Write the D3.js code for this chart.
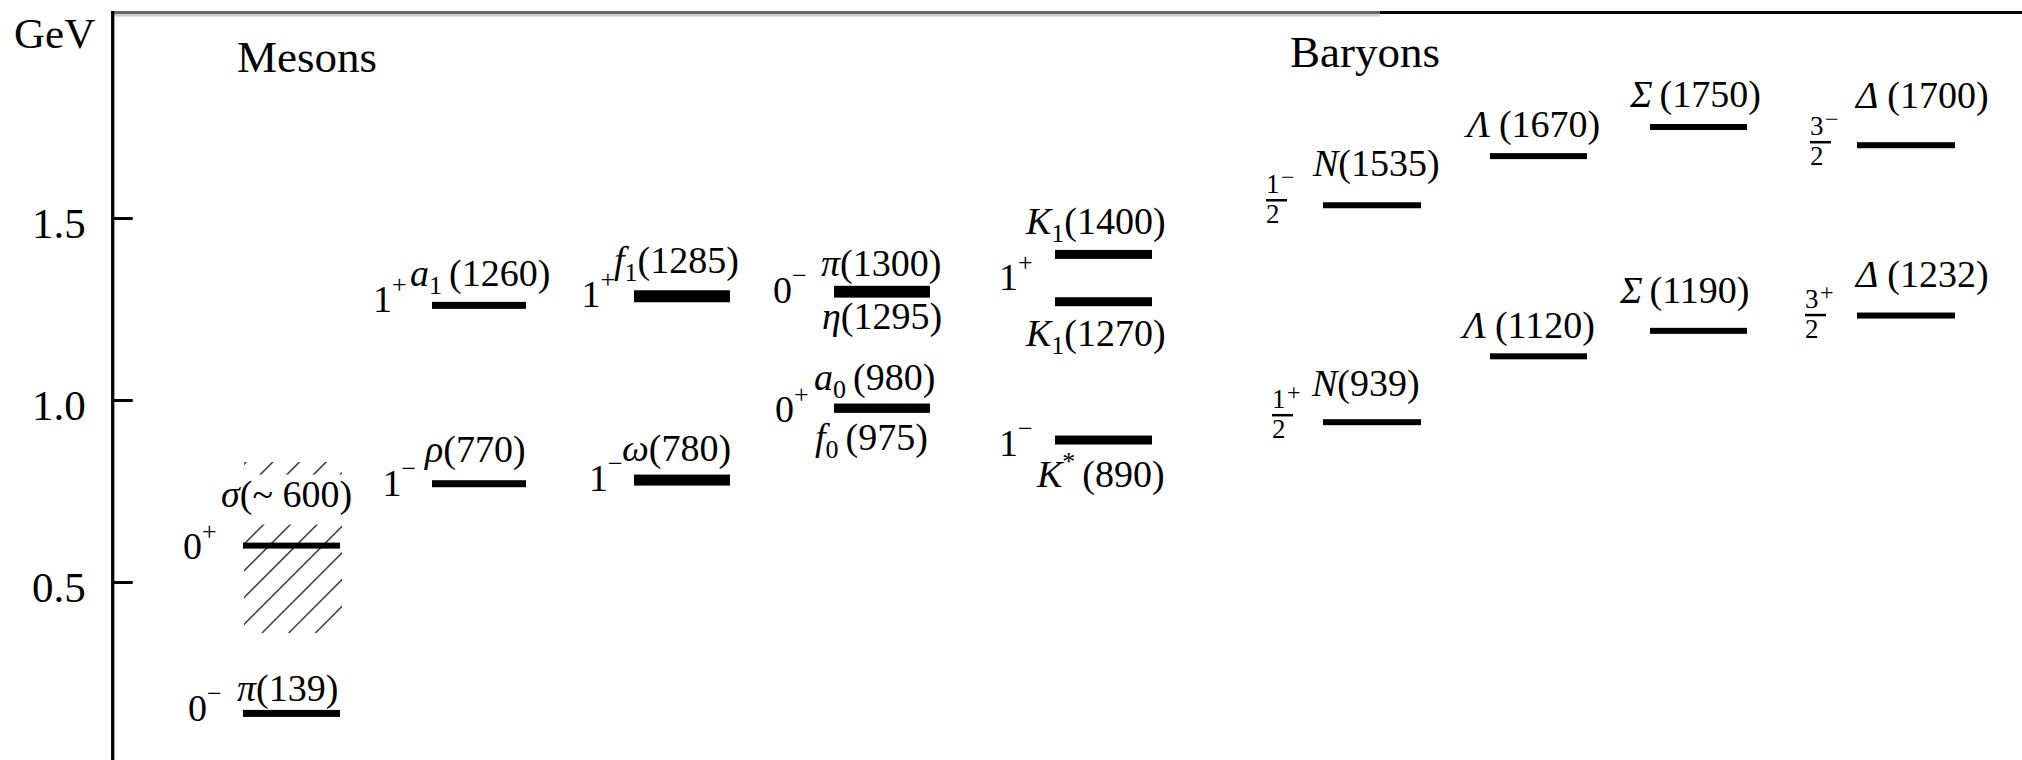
<!DOCTYPE html>
<html>
<head>
<meta charset="utf-8">
<title>Hadron mass levels</title>
<script src="https://cdn.jsdelivr.net/npm/d3@7"></script>
<style>
  html, body { margin: 0; padding: 0; background: #fff; }
  svg { display: block; }
  svg text, svg tspan { font-family: "Liberation Serif", "Times New Roman", Times, serif; fill: #000; }
</style>
</head>
<body>
<svg id="chart" width="2022" height="760" font-family="Liberation Serif, Times New Roman, serif"></svg>
<script>
// ---- data -------------------------------------------------------------
const unitLabel = "GeV";
const sectionTitles = ["Mesons", "Baryons"];
const tickValues = [0.5, 1.0, 1.5];
const tickLabels = ["0.5", "1.0", "1.5"];

// one column per family of states
const columnKeys = ["π σ", "a₁ ρ", "f₁ ω", "π η a₀ f₀", "K", "N", "Λ", "Σ", "Δ"];

// states: symbol, subscript, superscript, mass (MeV), column, J and parity
const stateSymbols      = ["π", "σ", "a", "ρ", "f", "ω", "π", "η", "a", "f", "K", "K", "K", "N", "N", "Λ", "Λ", "Σ", "Σ", "Δ", "Δ"];
const stateSubscripts   = ["", "", "1", "", "1", "", "", "", "0", "0", "1", "1", "", "", "", "", "", "", "", "", ""];
const stateSuperscripts = ["", "", "", "", "", "", "", "", "", "", "", "", "*", "", "", "", "", "", "", "", ""];
const stateMasses       = [139, 600, 1260, 770, 1285, 780, 1300, 1295, 980, 975, 1400, 1270, 890, 1535, 939, 1670, 1120, 1750, 1190, 1700, 1232];
const stateApprox       = [false, true, false, false, false, false, false, false, false, false, false, false, false, false, false, false, false, false, false, false, false];
const stateColumns      = [0, 0, 1, 1, 2, 2, 3, 3, 3, 3, 4, 4, 4, 5, 5, 6, 6, 7, 7, 8, 8];
const stateSpins        = ["0", "0", "1", "1", "1", "1", "0", "", "0", "", "", "1", "1", "1/2", "1/2", "", "", "", "", "3/2", "3/2"];
const stateParities     = ["−", "+", "+", "−", "+", "−", "−", "", "+", "", "", "+", "−", "−", "+", "", "", "", "", "−", "+"];

// broad σ region (GeV)
const sigmaBand = [0.36, 0.83];

// ---- layout -----------------------------------------------------------
const serif = "'Liberation Serif', 'Times New Roman', Times, serif";
const columnStarts = [243, 432, 634, 834, 1055, 1323, 1490, 1650, 1857];
const columnWidths = [97, 94, 96, 96, 97, 98, 97, 97, 98];
const barThickness = [7, 6, 7, 7, 12, 11, 10, 10, 7.5, 7.5, 9, 9, 9, 6, 6, 6, 6, 6, 6, 6, 6];
// name label: [dx from bar start, baseline dy from bar centre]
const nameOffsets = [[-6, -12], [-22, -39], [-22, -19.5], [-7, -21.5], [-20, -23], [-12, -19.5],
                     [-13, -15], [-12, 36], [-20, -17], [-19, 40.5], [-29, -20], [-29, 44.5], [-18, 46.5],
                     [-10, -29], [-11, -26], [-23, -19], [-27, -18], [-20, -20], [-30, -28], [-1, -37], [-1, -28.5]];
const nameGaps = [0, 0, 7, 0, 0, 0, 0, 0, 7, 7, 0, 0, 7, 0, 0, 9, 9, 7, 7, 9, 9];
// spin label: [dx from bar start, dy from bar centre] (baseline for integers, fraction bar for halves)
const spinOffsets = [[-55, 8], [-60, 13], [-59, 6.5], [-49.5, 12.5], [-52.5, 11], [-45, 10.5],
                     [-61, 12], null, [-59, 14.5], null, null, [-56, -11.5], [-56, 15.5],
                     [-57, -5], [-51, -7], null, null, null, null, [-47, -3], [-52, -0.5]];

const svg = d3.select("#chart");

const y = d3.scaleLinear().domain([0, 2]).range([764, 36]);
const x = d3.scaleOrdinal().domain(columnKeys).range(columnStarts);
const w = d3.scaleOrdinal().domain(columnKeys).range(columnWidths);

// ---- frame ------------------------------------------------------------
svg.append("line").attr("x1", 112).attr("x2", 1380).attr("y1", 12.7).attr("y2", 12.7)
  .attr("stroke", "#666").attr("stroke-width", 3.3);
svg.append("line").attr("x1", 112).attr("x2", 1380).attr("y1", 15.5).attr("y2", 15.5)
  .attr("stroke", "#ccc").attr("stroke-width", 2);
svg.append("line").attr("x1", 1380).attr("x2", 2022).attr("y1", 12.5).attr("y2", 12.5)
  .attr("stroke", "#000").attr("stroke-width", 3);
svg.append("line").attr("x1", 112.7).attr("x2", 112.7).attr("y1", 11).attr("y2", 760)
  .attr("stroke", "#000").attr("stroke-width", 3.3);

const axisG = svg.append("g").attr("transform", "translate(112.7,0)")
  .call(d3.axisLeft(y).tickValues(tickValues).tickFormat((d, i) => tickLabels[i])
        .tickSize(-20).tickSizeOuter(0).tickPadding(27));
axisG.attr("font-family", serif).attr("font-size", 43);
axisG.select(".domain").remove();
axisG.selectAll(".tick line").attr("stroke", "#000").attr("stroke-width", 3);
axisG.selectAll(".tick text").attr("dy", "0.46em").attr("fill", "#000");

svg.append("text").attr("x", 14).attr("y", 48).attr("font-size", 43).attr("font-family", serif).text(unitLabel);
svg.append("text").attr("x", 237).attr("y", 72).attr("font-size", 45).attr("font-family", serif).text(sectionTitles[0]);
svg.append("text").attr("x", 1290).attr("y", 67).attr("font-size", 45).attr("font-family", serif).text(sectionTitles[1]);

// ---- σ hatched band -----------------------------------------------------
const sigmaIdx = stateApprox.indexOf(true);
const sCol = columnKeys[stateColumns[sigmaIdx]];
const hx0 = x(sCol) + 1, hx1 = x(sCol) + w(sCol) + 2;
const hTop = y(sigmaBand[1]), hBot = y(sigmaBand[0]);
svg.append("clipPath").attr("id", "sigma-clip")
  .append("rect").attr("x", hx0).attr("y", hTop).attr("width", hx1 - hx0).attr("height", hBot - hTop);
const hatchStep = 26.7, hh = hBot - hTop;
const hatchStarts = d3.range(hx0 + 18 - Math.ceil(hh / hatchStep) * hatchStep, hx1, hatchStep);
svg.append("g").attr("clip-path", "url(#sigma-clip)")
  .selectAll("line").data(hatchStarts).join("line")
  .attr("x1", d => d).attr("y1", hBot).attr("x2", d => d + hh).attr("y2", hTop)
  .attr("stroke", "#444").attr("stroke-width", 1.6);
const sigmaY = y(stateMasses[sigmaIdx] / 1000);
svg.append("rect").attr("x", hx0 - 3).attr("y", sigmaY - 71).attr("width", hx1 - hx0 + 6).attr("height", 50)
  .attr("fill", "#fff");

// ---- level bars -----------------------------------------------------------
const idx = d3.range(stateMasses.length);
svg.append("g").selectAll("rect").data(idx).join("rect")
  .attr("x", i => x(columnKeys[stateColumns[i]]))
  .attr("width", i => w(columnKeys[stateColumns[i]]))
  .attr("y", i => y(stateMasses[i] / 1000) - barThickness[i] / 2)
  .attr("height", i => barThickness[i])
  .attr("fill", "#000");

// ---- labels ---------------------------------------------------------------
const labels = svg.append("g").attr("font-family", serif);
idx.forEach(i => {
  const bx = x(columnKeys[stateColumns[i]]);
  const cy = y(stateMasses[i] / 1000);

  // particle name with mass
  const [ndx, ndy] = nameOffsets[i];
  const t = labels.append("text").attr("x", bx + ndx).attr("y", cy + ndy).attr("font-size", 38);
  t.append("tspan").attr("font-style", "italic").text(stateSymbols[i]);
  let back = 0;
  if (stateSubscripts[i]) {
    t.append("tspan").attr("font-size", 26).attr("dy", 8).text(stateSubscripts[i]);
    back = -8;
  }
  if (stateSuperscripts[i]) {
    t.append("tspan").attr("font-size", 26).attr("dy", -17).text(stateSuperscripts[i]);
    back = 17;
  }
  const massText = (stateApprox[i] ? "~ " : "") + stateMasses[i];
  t.append("tspan").attr("dy", back).attr("dx", nameGaps[i]).text(`(${massText})`);

  // spin and parity
  const spin = stateSpins[i];
  if (!spin) return;
  const [sdx, sdy] = spinOffsets[i];
  if (spin.includes("/")) {
    const [num, den] = spin.split("/");
    const fx = bx + sdx, fy = cy + sdy;
    labels.append("line").attr("x1", fx).attr("x2", fx + 21).attr("y1", fy).attr("y2", fy)
      .attr("stroke", "#000").attr("stroke-width", 2.5);
    labels.append("text").attr("x", fx).attr("y", fy - 7).attr("font-size", 27).text(num);
    labels.append("text").attr("x", fx).attr("y", fy + 23).attr("font-size", 27).text(den);
    labels.append("text").attr("x", fx + 15).attr("y", fy - 15).attr("font-size", 24).text(stateParities[i]);
  } else {
    const s = labels.append("text").attr("x", bx + sdx).attr("y", cy + sdy).attr("font-size", 38).text(spin);
    s.append("tspan").attr("font-size", 26).attr("dy", -19).text(stateParities[i]);
  }
});
</script>
</body>
</html>
